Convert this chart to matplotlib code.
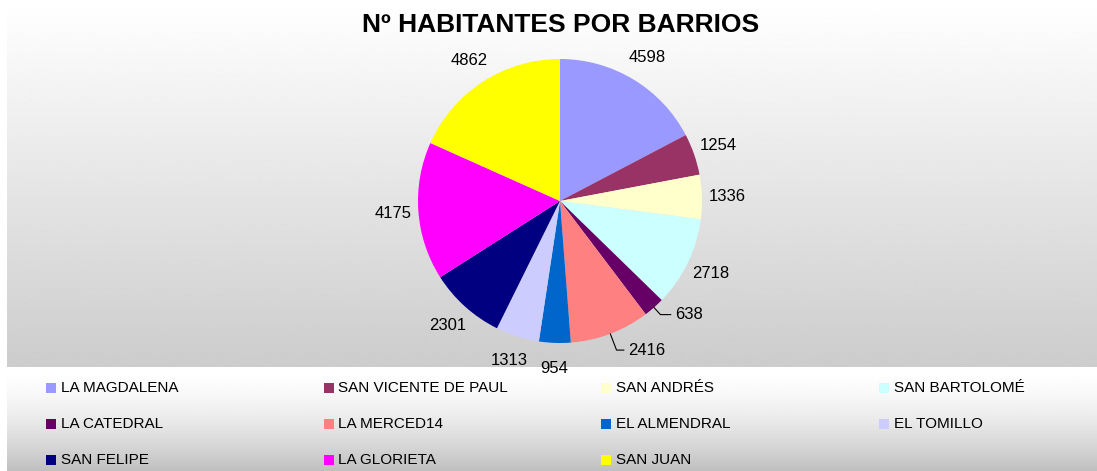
import numpy as np
import matplotlib.pyplot as plt
from matplotlib.patches import Rectangle

barrios = ["LA MAGDALENA", "SAN VICENTE DE PAUL", "SAN ANDRÉS", "SAN BARTOLOMÉ",
           "LA CATEDRAL", "LA MERCED14", "EL ALMENDRAL", "EL TOMILLO",
           "SAN FELIPE", "LA GLORIETA", "SAN JUAN"]
habitantes = [4598, 1254, 1336, 2718, 638, 2416, 954, 1313, 2301, 4175, 4862]
colores = ["#9999FF", "#993366", "#FFFFCC", "#CCFFFF", "#660066", "#FF8080",
           "#0066CC", "#CCCCFF", "#000080", "#FF00FF", "#FFFF00"]
titulo = "Nº HABITANTES POR BARRIOS"

plt.rcParams['font.family'] = ['Liberation Sans', 'DejaVu Sans']

W, H = 1097, 471
fig = plt.figure(figsize=(W / 100, H / 100), dpi=100)
fig.patch.set_facecolor("white")

# fondo degradado (zona del grafico y zona de la leyenda)
bg = fig.add_axes([0, 0, 1, 1])
bg.set_xlim(0, W)
bg.set_ylim(H, 0)
bg.axis("off")


def degradado(x0, x1, y0, y1, c0, c1, gamma=1.0):
    t = np.linspace(0, 1, 256) ** gamma
    g = (c0 + (c1 - c0) * t)[:, None]
    bg.imshow(g, cmap="gray", vmin=0, vmax=1, extent=(x0, x1, y1, y0),
              aspect="auto", interpolation="bilinear")


degradado(7, W, 3, 367, 1.0, 0.80)
degradado(7, W, 368, H, 1.0, 0.75, gamma=1.6)
bg.set_xlim(0, W)
bg.set_ylim(H, 0)

fig.text(561 / W, 1 - 25 / H, titulo, ha="center", va="center",
         fontsize=19, fontweight="bold")

# tarta
cx, cy, R = 560, 201, 142
ax = fig.add_axes([(cx - R) / W, (H - cy - R) / H, 2 * R / W, 2 * R / H])
wedges, _ = ax.pie(habitantes, colors=colores, startangle=90, counterclock=False,
                   radius=1, wedgeprops=dict(linewidth=0))
ax.set_xlim(-1, 1)
ax.set_ylim(-1, 1)
ax.axis("off")

# etiquetas con linea guia para las porciones pequeñas
guias = {4: (0.81, -0.80), 5: (0.48, -1.05)}
for i, w in enumerate(wedges):
    ang = np.deg2rad((w.theta1 + w.theta2) / 2)
    x, y = np.cos(ang), np.sin(ang)
    if i in guias:
        ax.annotate(str(habitantes[i]), xy=(x, y), xytext=guias[i],
                    ha="left", va="center", fontsize=12,
                    arrowprops=dict(arrowstyle="-", lw=0.8, color="black",
                                    shrinkA=1, shrinkB=0,
                                    connectionstyle="angle,angleA=180,angleB=%d"
                                    % np.rad2deg(ang)))
    else:
        ax.text(1.18 * x, 1.18 * y, str(habitantes[i]), ha="center",
                va="center", fontsize=12)

# leyenda en 4 columnas
for i, (nombre, col) in enumerate(zip(barrios, colores)):
    c, f = i % 4, i // 4
    x0 = 46 + c * 277.5
    y0 = 388 + f * 36
    bg.add_patch(Rectangle((x0, y0 - 5), 10, 10, facecolor=col, edgecolor="none"))
    bg.text(x0 + 15, y0, nombre, ha="left", va="center", fontsize=11)

fig.savefig("out.png", dpi=100)
